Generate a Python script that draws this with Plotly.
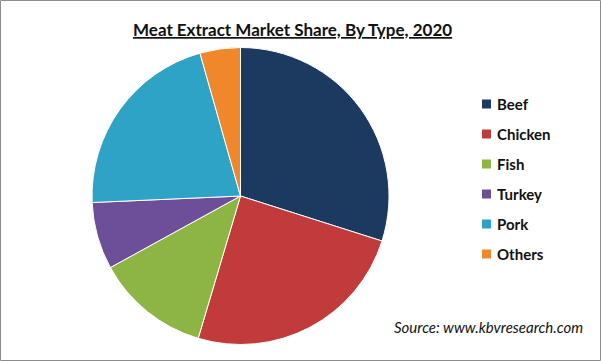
import plotly.graph_objects as go

labels = ["Beef", "Chicken", "Fish", "Turkey", "Pork", "Others"]
values = [29.9, 24.7, 12.4, 7.3, 21.3, 4.4]
colors = ["#1c3a60", "#c13b3b", "#8cb543", "#6c4f98", "#2ea3c6", "#f0882b"]

W, H = 601, 361
fig = go.Figure()
fig.add_trace(go.Pie(
    labels=labels, values=values, sort=False, direction="clockwise", rotation=0,
    marker=dict(colors=colors, line=dict(color="white", width=1)),
    textinfo="none", hoverinfo="label+percent", showlegend=False,
    domain=dict(x=[92 / W, 389 / W], y=[(H - 345) / H, (H - 47) / H]),
))

font_main = "Lato, Carlito, Calibri, sans-serif"
annotations = [
    dict(text="<b><u>Meat Extract Market Share, By Type, 2020</u></b>", x=292 / W, y=1 - 30 / H,
         xref="paper", yref="paper", showarrow=False, xanchor="center", yanchor="middle",
         font=dict(family=font_main, size=17, color="#111111")),
    dict(text="<i>Source: www.kbvresearch.com</i>", x=585 / W, y=1 - 327 / H,
         xref="paper", yref="paper", showarrow=False, xanchor="right", yanchor="middle",
         font=dict(family=font_main, size=15, color="#111111")),
]
shapes = [dict(type="rect", xref="paper", yref="paper", x0=0.5 / W, x1=1 - 0.5 / W, y0=0.5 / H, y1=1 - 0.5 / H,
               line=dict(color="#8c8c8c", width=1))]

leg_y0, leg_step = 104, 30
for i, (lab, col) in enumerate(zip(labels, colors)):
    yc = leg_y0 + i * leg_step
    shapes.append(dict(type="rect", xref="paper", yref="paper",
                       x0=482 / W, x1=491 / W, y0=1 - (yc + 4.5) / H, y1=1 - (yc - 4.5) / H,
                       fillcolor=col, line=dict(width=0)))
    annotations.append(dict(text="<b>" + lab + "</b>", x=495 / W, y=1 - yc / H,
                            xref="paper", yref="paper", showarrow=False, xanchor="left", yanchor="middle",
                            font=dict(family=font_main, size=15, color="#111111")))

fig.update_layout(width=W, height=H, margin=dict(l=0, r=0, t=0, b=0),
                  paper_bgcolor="white", plot_bgcolor="white",
                  annotations=annotations, shapes=shapes)
fig.write_html("out.html")
